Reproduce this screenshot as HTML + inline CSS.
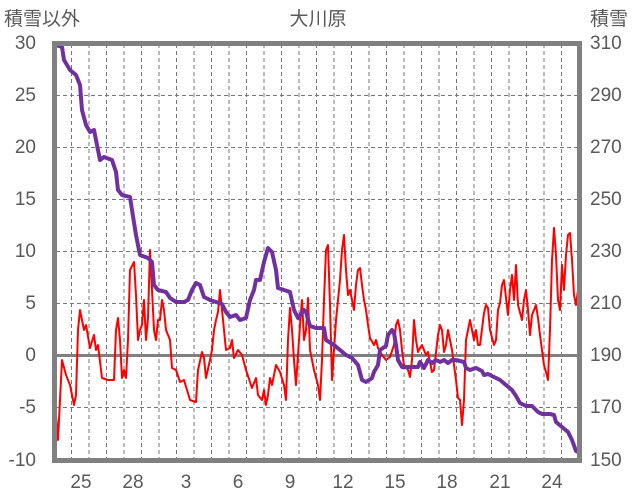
<!DOCTYPE html>
<html><head><meta charset="utf-8"><style>
html,body{margin:0;padding:0;background:#fff;width:636px;height:501px;overflow:hidden}
svg{display:block}
text{font-family:"Liberation Sans","Noto Sans CJK JP",sans-serif;fill:#595959;font-size:19px}
</style></head><body>
<svg width="636" height="501" viewBox="0 0 636 501">
<g stroke="#777" stroke-width="1" stroke-dasharray="4,3" fill="none">
<path d="M56 95.5H579M56 147.5H579M56 199.5H579M56 251.5H579M56 303.5H579M56 407.5H579"/>
<path d="M71.5 44V460M89 44V460M106.5 44V460M124 44V460M141.5 44V460M159 44V460M176.5 44V460M194 44V460M211.5 44V460M229 44V460M246.5 44V460M264 44V460M281.5 44V460M299 44V460M316.5 44V460M334 44V460M351.5 44V460M369 44V460M386.5 44V460M404 44V460M421.5 44V460M439 44V460M456.5 44V460M474 44V460M491.5 44V460M509 44V460M526.5 44V460M544 44V460M561.5 44V460"/>
</g>
<line x1="56" y1="355.5" x2="579" y2="355.5" stroke="#808080" stroke-width="3"/>
<polyline fill="none" stroke="#ff0000" stroke-width="2" stroke-linejoin="round" points="56,415 58,440 60,400 62,360 66,375 70,385 74,405 76,395 78,330 80,310 84,330 86,325 90,348 94,335 96,350 98,345 102,378 108,380 114,380 116,330 118,318 120,340 122,378 124,370 126,378 128,340 130,270 134,262 136,295 138,340 140,330 142,325 144,300 146,340 148,318 150,250 152,290 154,330 156,340 158,320 160,320 162,300 164,310 166,330 170,340 172,368 176,370 180,382 184,380 190,400 196,402 198,370 202,352 204,358 206,378 210,360 212,350 214,330 216,320 218,312 220,290 222,310 226,350 230,348 232,340 234,358 238,350 242,355 246,370 252,388 256,378 258,395 262,400 264,390 266,405 268,395 270,378 272,385 276,365 280,372 284,385 286,400 288,340 290,308 292,330 294,360 296,385 298,355 300,325 302,300 304,340 306,330 308,298 310,350 314,370 318,385 320,400 322,360 324,300 326,250 328,245 330,305 332,380 334,350 336,320 338,300 340,280 342,250 344,235 346,270 348,295 350,290 352,300 354,310 356,285 358,270 360,268 362,285 364,300 366,310 368,325 370,338 374,345 376,340 378,348 382,355 386,360 390,357 394,345 396,325 398,320 400,330 402,350 404,365 408,370 410,377 412,360 414,320 416,340 418,352 420,348 422,345 424,350 426,355 428,352 430,362 432,372 434,370 438,335 440,325 442,330 444,352 446,345 448,330 450,340 452,350 454,365 456,380 458,398 460,400 462,425 464,400 466,340 468,330 470,320 472,330 474,340 476,330 478,345 480,345 484,313 486,305 488,308 490,330 494,345 496,340 498,310 500,303 502,285 504,280 506,298 508,315 510,290 512,275 514,300 516,265 518,305 522,320 524,300 526,290 528,310 530,335 532,315 534,310 536,305 538,318 540,335 542,350 544,365 546,372 548,380 550,330 552,260 554,228 556,255 558,300 560,310 562,265 564,290 566,255 568,235 570,233 572,260 574,295 576,305 578,290"/>
<polyline fill="none" stroke="#7030a0" stroke-width="4" stroke-linejoin="round" points="56,45 62,47 64,60 70,70 76,75 80,85 82,110 86,125 90,132 94,130 96,140 100,160 104,157 112,160 116,172 118,190 122,195 130,197 132,210 136,235 140,255 148,258 152,262 154,285 158,290 166,292 170,298 176,302 184,302 188,300 192,290 196,283 200,285 204,297 210,300 216,302 222,304 226,312 230,317 236,315 240,320 246,318 250,300 254,290 256,280 260,280 264,262 268,248 272,252 276,270 278,288 284,290 290,292 294,310 298,318 304,310 306,312 310,326 316,328 324,328 326,340 334,345 340,350 346,355 352,358 358,365 362,380 366,382 372,378 374,372 378,365 380,350 386,346 388,335 392,330 394,333 396,345 398,360 402,367 410,367 418,367 420,362 424,368 428,360 432,363 436,360 440,362 444,360 448,363 452,360 456,360 464,362 466,368 470,370 476,368 482,371 484,375 488,374 496,378 500,380 506,385 512,390 516,396 520,403 526,406 532,406 538,412 542,414 550,414 554,415 556,422 562,427 568,432 572,440 576,451 580,453"/>
<rect x="54.5" y="43.5" width="525" height="417" fill="none" stroke="#808080" stroke-width="5"/>
<g text-anchor="end">
<text x="36" y="49">30</text><text x="36" y="101">25</text><text x="36" y="153">20</text><text x="36" y="205">15</text><text x="36" y="257">10</text><text x="36" y="309">5</text><text x="36" y="361">0</text><text x="36" y="413">-5</text><text x="36" y="466">-10</text>
</g>
<g text-anchor="start">
<text x="590" y="49">310</text><text x="590" y="101">290</text><text x="590" y="153">270</text><text x="590" y="205">250</text><text x="590" y="257">230</text><text x="590" y="309">210</text><text x="590" y="361">190</text><text x="590" y="413">170</text><text x="590" y="466">150</text>
</g>
<g text-anchor="middle">
<text x="81" y="488">25</text><text x="133" y="488">28</text><text x="186" y="488">3</text><text x="238" y="488">6</text><text x="290" y="488">9</text><text x="343" y="488">12</text><text x="395" y="488">15</text><text x="447" y="488">18</text><text x="500" y="488">21</text><text x="552" y="488">24</text>
<text x="318" y="25">大川原</text>
</g>
<text x="4" y="25">積雪以外</text>
<text x="590" y="25">積雪</text>
</svg>
</body></html>
